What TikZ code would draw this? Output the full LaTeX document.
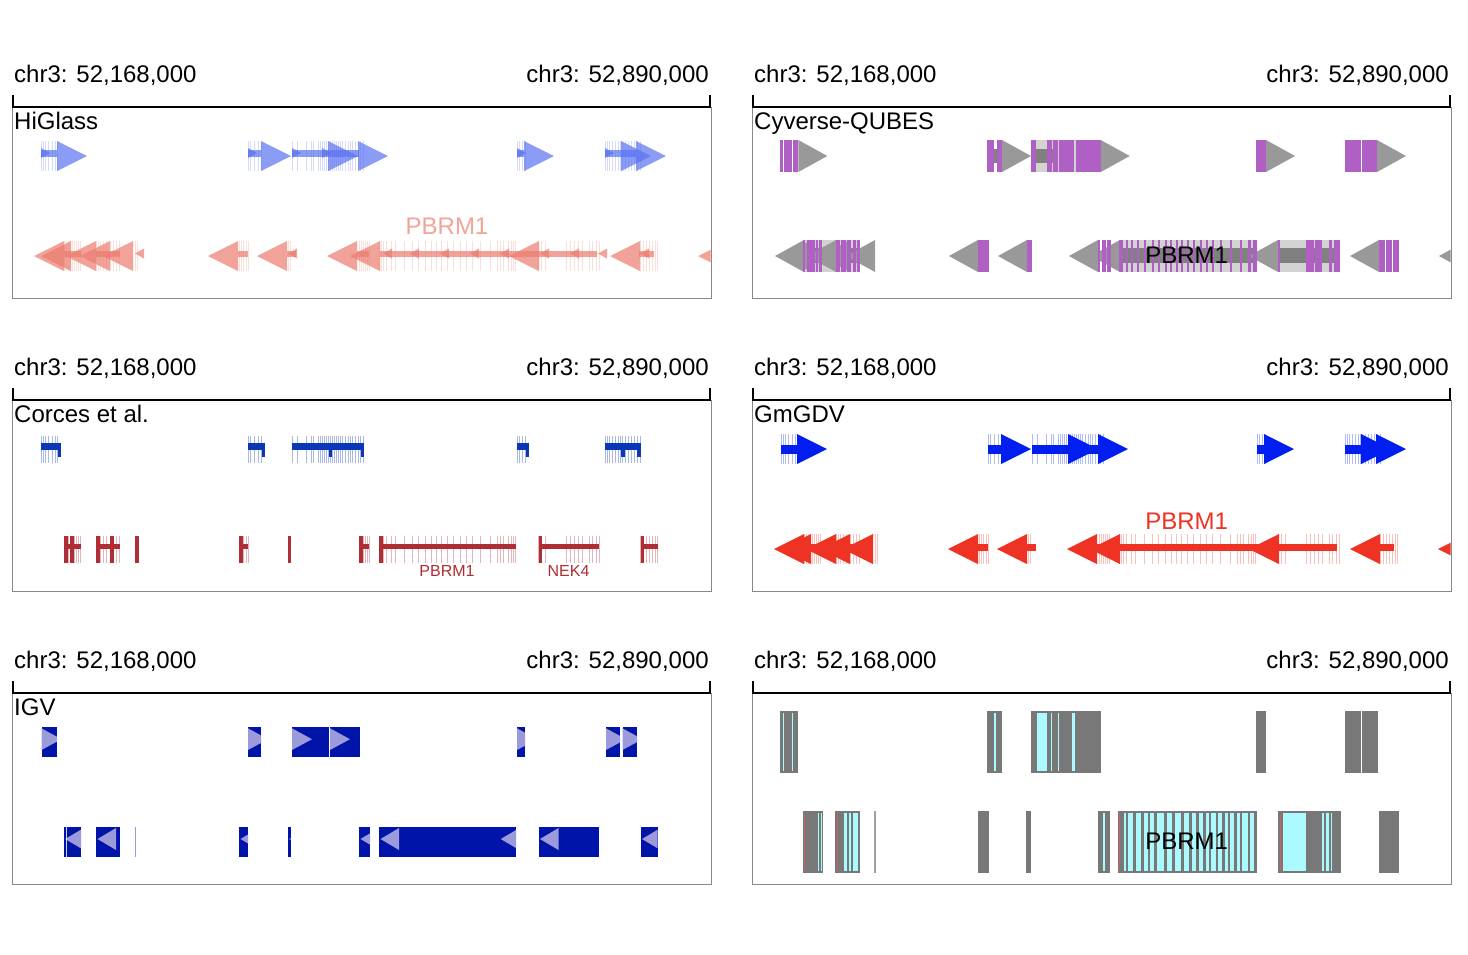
\documentclass[tikz,border=0pt]{standalone}
\usepackage{fontspec}
\setmainfont{Liberation Sans}
\definecolor{hgblue}{RGB}{91,114,241}
\definecolor{hgred}{RGB}{236,124,111}
\definecolor{hgredtxt}{RGB}{242,163,154}
\definecolor{cvpurple}{RGB}{176,96,196}
\definecolor{cvtri}{RGB}{153,153,153}
\definecolor{cvbody}{RGB}{211,211,211}
\definecolor{cvline}{RGB}{128,128,128}
\definecolor{coblue}{RGB}{10,55,181}
\definecolor{cored}{RGB}{175,45,53}
\definecolor{gmblue}{RGB}{0,30,240}
\definecolor{gmred}{RGB}{238,50,35}
\definecolor{igvblue}{RGB}{0,20,170}
\definecolor{igvtri}{RGB}{155,155,220}
\definecolor{lpgray}{RGB}{120,120,120}
\definecolor{lpcyan}{RGB}{170,250,255}
\definecolor{lpred}{RGB}{205,95,95}
\definecolor{framegray}{RGB}{136,136,136}

\def\topexons{41,43,45,48,52,55,57,248,250,254,258,261,292,297,306,311,313,318,320,322,324,326,328,330,332,334,336,338,340,342,345,348,350,352,355,358,360,363,517,519,522,525,605,607,609,612,615,618,620,622,625,628,631,634,637,640}
\def\botexons{64,66,68,70,72,74,76,78,80,96,98,100,103,106,110,113,116,119,135,137,239,241,243,246,248,288,290,359,361,363,365,367,369,379,381,383,386,391,395,404,412,418,425,431,436,441,447,453,460,466,472,480,490,497,500,503,508,511,513,515,538,541,545,566,570,574,578,582,589,592,596,599,640,643,646,649,652,655,657}
\def\topgenes{41/57,248/261,292/359,517/524,605/636}
\def\botgenes{64/81,96/120,238/248,287/296,357/369,380/597,639/654}
\def\toptri{57,261,328,358,524,621,636}
\def\bottri{64,71,96,110,133,238,287,357,380,539,640,728}
\def\topsmall{41,248,292,322,517,605}
\def\botsmall{135,288,383,410,440,470,500,540,570,598,640}

\newcommand\panelframe[3]{%
 \begin{scope}[shift={(#2,#3)}]
  \node[chrlab, anchor=base west] (#1-start) at (14,82) {chr3: 52,168,000};
  \node[chrlab, anchor=base east] (#1-end) at (709,82) {chr3: 52,890,000};
  \draw[panelbox] (12,107) rectangle (711,298);
  \draw[axisline] (13,95) -- (13,107) -- (710,107) -- (710,95);
 \end{scope}}

\begin{document}
\begin{tikzpicture}[x=1pt,y=-1pt,
  chrlab/.style={font=\fontsize{24}{28}\selectfont, inner sep=0pt},
  trklab/.style={font=\fontsize{24}{28}\selectfont, inner sep=0pt, anchor=base west},
  genelab/.style={font=\fontsize{24}{28}\selectfont, inner sep=0pt},
  smalllab/.style={font=\fontsize{16}{19}\selectfont, inner sep=0pt},
  axisline/.style={line width=1.4pt, black},
  panelbox/.style={draw=framegray, line width=1pt},
  exonline/.style={line width=.8pt},
]
\useasboundingbox[fill=white] (0,0) rectangle (1468,954);

% ================= HiGlass =================
\begin{scope}
 \clip (12.5,107.5) rectangle (710.5,297.5);
 \foreach \x in \topexons \draw[exonline, hgblue, opacity=.25] (\x,141) -- (\x,171);
 \foreach \x in \botexons \draw[exonline, hgred, opacity=.25] (\x,241) -- (\x,271);
 \foreach \a/\b in \topgenes \fill[hgblue, opacity=.7] (\a,149.5) rectangle (\b,156.5);
 \foreach \a/\b in \botgenes \fill[hgred, opacity=.7] (\a,250.5) rectangle (\b,256.5);
 \foreach \x in \topsmall \fill[hgblue, opacity=.7] (\x,148) -- ({\x+9},153) -- (\x,158) -- cycle;
 \foreach \x in \botsmall \fill[hgred, opacity=.7] (\x,253.5) -- ({\x+9},248.5) -- ({\x+9},258.5) -- cycle;
 \foreach \b in \toptri \fill[hgblue, opacity=.7] (\b,141) -- ({\b+30},156) -- (\b,171) -- cycle;
 \foreach \b in \bottri \fill[hgred, opacity=.7] (\b,241) -- ({\b-30},256) -- (\b,271) -- cycle;
\end{scope}
\node[genelab, text=hgredtxt] (hg-pbrm1) at (447,226) {PBRM1};

% ================= Cyverse-QUBES =================
\begin{scope}[shift={(740,0)}]
 \clip (12.5,107.5) rectangle (710.5,297.5);
 \fill[cvbody] (291,140) rectangle (336,172);
 \fill[cvline] (295,149) rectangle (318,163);
 \fill[cvline] (254,149) rectangle (256.6,163);
 \fill[cvbody] (63,240) rectangle (120,272);
 \fill[cvline] (63,248) rectangle (120,263);
 \fill[cvbody] (379,240) rectangle (517,272);
 \fill[cvline] (379,248) rectangle (517,263);
 \fill[cvbody] (538,240) rectangle (600,272);
 \fill[cvline] (538,248) rectangle (600,263);
 \foreach \b in {58.3,262,360.7,526,637} \fill[cvtri] (\b,140) -- ({\b+29},156) -- (\b,172) -- cycle;
 \foreach \b in {64,71,96,110,135,238,287,358,380,538,639,728} \fill[cvtri] (\b,240) -- ({\b-29},256) -- (\b,272) -- cycle;
 \foreach \a/\b in {39.7/42.5,43.5/51.5,52.5/58.3,247/254,256.6/262,291/295.7,306.6/311.5,312.5/318,318.7/334,336/360.7,515.6/526,605/620.6,621.6/637}
   \fill[cvpurple] (\a,140) rectangle (\b,172);
 \foreach \a/\b in {63/65.3,66.7/74.7,75.7/78,79.2/81.7,95.7/100,101/105.5,107/111,113/115.5,117/120,238/248.7,287/291.6,358/360,361.5/366,367/371,379/383,386/388,391/393,397/398.5,404/406,412/413.5,418/420,425/427,430/432,436/437.5,441/443,447/449,453/455,460/461.5,466/468,472/474,480/482,490/491.5,500/501.5,508/511,513/517,538/540,566/574,575/582,589/592,593.5/600,639/645,646/652,653/659}
   \fill[cvpurple] (\a,240) rectangle (\b,272);
\end{scope}
\node[genelab, text=black] (cv-pbrm1) at (1186.6,255.7) {PBRM1};

% ================= Corces et al. =================
\begin{scope}[shift={(0,293)}]
 \clip (12.5,107.5) rectangle (710.5,297.5);
 \foreach \x in \topexons \draw[exonline, coblue, opacity=.35] (\x,143) -- (\x,170);
 \foreach \x in \botexons \draw[exonline, cored, opacity=.35] (\x,243) -- (\x,270);
 \foreach \a/\b in {41/61,248/265,292/364,517/529,605/640.5} \fill[coblue] (\a,149.5) rectangle (\b,156.5);
 \foreach \a in {57.5,261.5,328.5,360.5,525.5,620.7,637} \fill[coblue] (\a,149.5) rectangle ({\a+3.8},163.7);
 \foreach \a/\b in {64/81,96/120,239/248,359/369,379/516,538.5/599,640.5/657.6} \fill[cored] (\a,250.5) rectangle (\b,256);
 \foreach \a in {63.7,70,96,110,135,239,287.5,359,379,538.5,640.5} \fill[cored] (\a,243) rectangle ({\a+3.8},270);
\end{scope}
\node[smalllab, text=cored] (co-pbrm1) at (447,571) {PBRM1};
\node[smalllab, text=cored] (co-nek4) at (568.5,571) {NEK4};

% ================= GmGDV =================
\begin{scope}[shift={(740,293)}]
 \clip (12.5,107.5) rectangle (710.5,297.5);
 \foreach \x in \topexons \draw[exonline, gmblue, opacity=.3] (\x,141) -- (\x,171);
 \foreach \x in \botexons \draw[exonline, gmred, opacity=.3] (\x,241) -- (\x,271);
 \foreach \a/\b in \topgenes \fill[gmblue] (\a,151.5) rectangle (\b,160.5);
 \foreach \a/\b in \botgenes \fill[gmred] (\a,251) rectangle (\b,258);
 \foreach \b in \toptri \fill[gmblue] (\b,141) -- ({\b+30},156) -- (\b,171) -- cycle;
 \foreach \b in \bottri \fill[gmred] (\b,241) -- ({\b-30},256) -- (\b,271) -- cycle;
\end{scope}
\node[genelab, text=gmred] (gm-pbrm1) at (1186.6,521.7) {PBRM1};

% ================= IGV =================
\begin{scope}[shift={(0,586)}]
 \clip (12.5,107.5) rectangle (710.5,297.5);
 \foreach \a/\b in {41.5/57,248/261,292/328.5,330/359.5,517/525,606/620,622.5/637} {
   \fill[igvblue] (\a,141) rectangle (\b,171);
   \begin{scope}
    \clip (\a,141) rectangle (\b,171);
    \fill[igvtri] (\a,142.3) -- ({\a+20},153.2) -- (\a,164) -- cycle;
   \end{scope}}
 \foreach \a/\b in {63.7/81,96/120,239/248,287.5/290.7,359/370,379/516,538.5/599,640.5/657.6} {
   \fill[igvblue] (\a,240.7) rectangle (\b,270.7);
   \begin{scope}
    \clip (\a,240.7) rectangle (\b,270.7);
    \fill[igvtri] ({\a+1.5},253) -- ({\a+20},242) -- ({\a+20},264) -- cycle;
   \end{scope}}
 \fill[igvtri] (500.7,253) -- (516,244) -- (516,262) -- cycle;
 \fill[white, opacity=.8] (65.5,240.7) rectangle (66.8,270.7);
 \fill[igvtri] (135,240.7) rectangle (136,270.7);
\end{scope}

% ================= last panel =================
\begin{scope}[shift={(740,586)}]
 \clip (12.5,107.5) rectangle (710.5,297.5);
 \foreach \a/\b in {40/58.3,247.3/262.3,291.2/360.7,515.6/526,605.2/620.6,621.6/637.9}
   \fill[lpgray] (\a,125) rectangle (\b,187);
 \foreach \a/\b in {43/44,52.2/53.2,253.5/255.5,296.8/306.6,311.2/312.2,318.2/319.2,332.2/335}
   \fill[lpcyan] (\a,127) rectangle (\b,185);
 \foreach \a/\b in {63/82.6,95.2/120.4,238/248.7,286/291,357.5/370,377.5/517,538/600.6,639/659}
   \fill[lpgray] (\a,225) rectangle (\b,287);
 \fill[lpgray!70] (134,225) rectangle (136.3,287);
 \foreach \a/\b in {77.5/78.5,80.8/81.8,104/107.3,109.3/110.7,113/118.3,363/365.3,384/386,388/393,396/401,404/408,410/414,417/424,427/432,435/441,444/449,452/456,459/463,466/469,471/476,478/482,485/488,490/494,497/500,502/508,510/514,542.7/566,582/584,585.5/589,590.5/592}
   \fill[lpcyan] (\a,227) rectangle (\b,285);
 \foreach \x in {64.4,97.3,379.3,540} \draw[lpred, line width=1pt] (\x,227) -- (\x,285);
\end{scope}
\node[genelab, text=black] (lp-pbrm1) at (1186.6,841.7) {PBRM1};

% ================= frames and titles =================
\panelframe{p1}{0}{0}
\panelframe{p2}{740}{0}
\panelframe{p3}{0}{293}
\panelframe{p4}{740}{293}
\panelframe{p5}{0}{586}
\panelframe{p6}{740}{586}
\node[trklab] (t1) at (14,129) {HiGlass};
\node[trklab] (t2) at (754,129) {Cyverse-QUBES};
\node[trklab] (t3) at (14,422) {Corces et al.};
\node[trklab] (t4) at (754,422) {GmGDV};
\node[trklab] (t5) at (14,715) {IGV};
\end{tikzpicture}
\end{document}
